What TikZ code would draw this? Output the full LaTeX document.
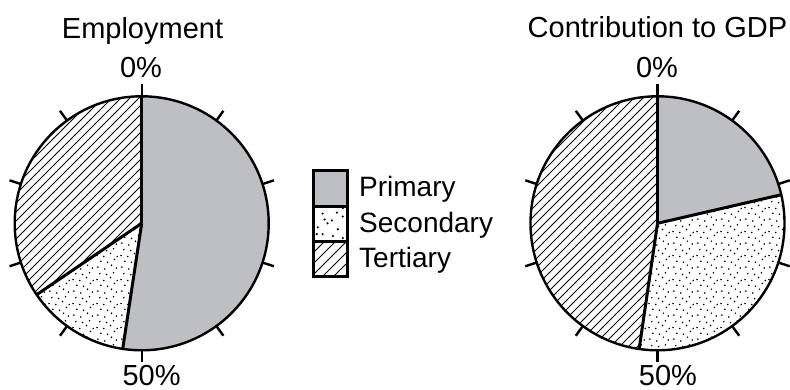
\documentclass[tikz,border=0pt]{standalone}
\usepackage{fontspec}
\setmainfont{Liberation Sans}
\usetikzlibrary{patterns}

\definecolor{primgray}{RGB}{190,191,194}

% fill patterns
\pgfdeclarepatternformonly{hatch}{\pgfqpoint{-1pt}{-1pt}}{\pgfqpoint{10pt}{10pt}}{\pgfqpoint{9pt}{9pt}}{%
  \pgfsetlinewidth{0.9pt}%
  \pgfpathmoveto{\pgfqpoint{0pt}{0pt}}%
  \pgfpathlineto{\pgfqpoint{9.1pt}{9.1pt}}%
  \pgfusepath{stroke}}
\pgfdeclarepatternformonly{hatchlg}{\pgfqpoint{-1pt}{-1pt}}{\pgfqpoint{12pt}{12pt}}{\pgfqpoint{11pt}{11pt}}{%
  \pgfsetlinewidth{1pt}%
  \pgfpathmoveto{\pgfqpoint{0pt}{0pt}}%
  \pgfpathlineto{\pgfqpoint{11.1pt}{11.1pt}}%
  \pgfusepath{stroke}}
\pgfdeclarepatternformonly{stipple}{\pgfqpoint{0pt}{0pt}}{\pgfqpoint{24pt}{24pt}}{\pgfqpoint{24pt}{24pt}}{%
  \foreach \dx/\dy in {2/3,9/1,16/5,21/2,5/9,12/8,19/11,1/15,8/14,15/17,22/14,4/21,11/20,18/22}{%
    \pgfpathcircle{\pgfqpoint{\dx pt}{\dy pt}}{0.9pt}\pgfusepath{fill}}}
\pgfdeclarepatternformonly{stipplelg}{\pgfqpoint{0pt}{0pt}}{\pgfqpoint{30pt}{30pt}}{\pgfqpoint{30pt}{30pt}}{%
  \foreach \dx/\dy in {3/4,13/2,23/6,8/11,18/13,28/17,2/20,13/24,23/27,7/28,25/21,17/6}{%
    \pgfpathcircle{\pgfqpoint{\dx pt}{\dy pt}}{1.2pt}\pgfusepath{fill}}}

\begin{document}
\begin{tikzpicture}[x=1pt,y=1pt,
  rim/.style={line width=2.4pt},
  cut/.style={line width=3pt},
  txt/.style={font=\fontsize{29}{35}\selectfont,inner sep=0pt,anchor=base},
  legbox/.style={draw,line width=3pt,minimum width=34.3pt,minimum height=35.33pt,inner sep=0pt},
  legtxt/.style={font=\fontsize{28}{34}\selectfont,inner sep=0pt,anchor=base west}]
\useasboundingbox (0,0) rectangle (790,390);

\coordinate (C1) at (141.7,166.7);
\coordinate (C2) at (657.5,166.7);

% Employment
\fill[primgray] (C1) -- ++(90:127) arc[start angle=90,end angle=-98.6,radius=127] -- cycle;
\fill[pattern=stipple] (C1) -- ++(-98.6:127) arc[start angle=-98.6,end angle=-145.8,radius=127] -- cycle;
\fill[pattern=hatch] (C1) -- ++(-145.8:127) arc[start angle=-145.8,end angle=-270,radius=127] -- cycle;
\draw[cut] (C1) -- ++(90:127);
\draw[cut] (C1) -- ++(-98.6:127);
\draw[cut] (C1) -- ++(-145.8:127);
\draw[rim] (C1) circle[radius=127];
\foreach \a in {90,54,...,-234}
  \draw[rim] ([shift={(\a:127)}]C1) -- ([shift={(\a:139)}]C1);

% Contribution to GDP
\fill[primgray] (C2) -- ++(90:127) arc[start angle=90,end angle=13,radius=127] -- cycle;
\fill[pattern=stipple] (C2) -- ++(13:127) arc[start angle=13,end angle=-98.3,radius=127] -- cycle;
\fill[pattern=hatch] (C2) -- ++(-98.3:127) arc[start angle=-98.3,end angle=-270,radius=127] -- cycle;
\draw[cut] (C2) -- ++(90:127);
\draw[cut] (C2) -- ++(13:127);
\draw[cut] (C2) -- ++(-98.3:127);
\draw[rim] (C2) circle[radius=127];
\foreach \a in {90,54,...,-234}
  \draw[rim] ([shift={(\a:127)}]C2) -- ([shift={(\a:139)}]C2);

% titles and scale
\node[txt] (T1) at (142.5,351) {Employment};
\node[txt] (Z1) at (141,312) {0\%};
\node[txt] (H1) at (151.6,4.5) {50\%};
\node[txt] (T2) at (657.5,352) {Contribution to GDP};
\node[txt] (Z2) at (657,312) {0\%};
\node[txt] (H2) at (668,4.5) {50\%};

% legend
\node[legbox,fill=primgray] (LP) at (330.35,201.5) {};
\node[legbox,pattern=stipplelg] (LS) at (330.35,166.2) {};
\node[legbox,pattern=hatchlg] (LT) at (330.35,130.9) {};
\node[legtxt] (TP) at (359,193) {Primary};
\node[legtxt] (TS) at (359,157.7) {Secondary};
\node[legtxt] (TT) at (359,122.4) {Tertiary};

\end{tikzpicture}
\end{document}
